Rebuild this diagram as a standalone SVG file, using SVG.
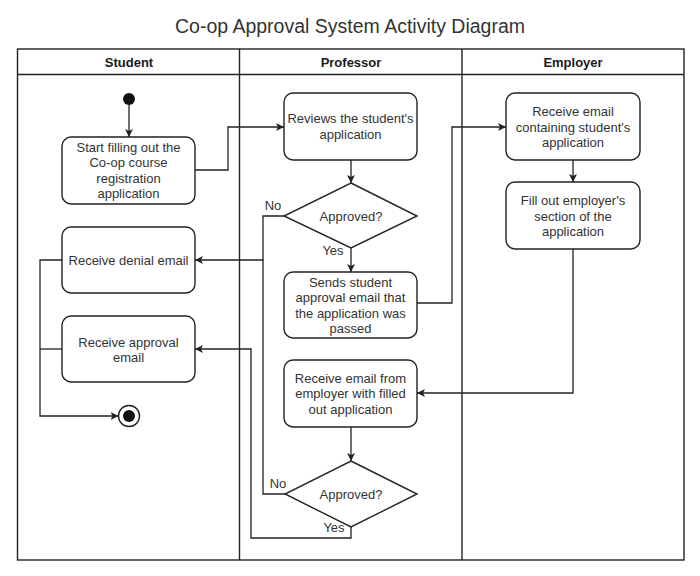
<svg xmlns="http://www.w3.org/2000/svg" width="700" height="576" viewBox="0 0 700 576">
<defs>
<style>
.lane{fill:none;stroke:#222;stroke-width:1.4}
.box{fill:#fff;stroke:#222;stroke-width:1.4}
.edge{fill:none;stroke:#222;stroke-width:1.3}
.arr{fill:none;stroke:#222;stroke-width:1.3;marker-end:url(#ah)}
.t{font-family:"Liberation Sans",Arial,sans-serif;font-size:13px;fill:#333;text-anchor:middle}
.h{font-family:"Liberation Sans",Arial,sans-serif;font-size:13px;font-weight:bold;fill:#1a1a1a;text-anchor:middle}
.title{font-family:"Liberation Sans",Arial,sans-serif;font-size:19.5px;fill:#333;text-anchor:middle}
</style>
<marker id="ah" viewBox="0 0 8 8" refX="8" refY="4" markerWidth="8" markerHeight="8" markerUnits="userSpaceOnUse" orient="auto">
<path d="M0,0 L8,4 L0,8 L2,4 z" fill="#222"/>
</marker>
</defs>
<rect width="700" height="576" fill="#fff"/>
<text class="title" x="350" y="33">Co-op Approval System Activity Diagram</text>

<g id="swimlanes">
<rect class="lane" x="17.5" y="49" width="666.5" height="511"/>
<line class="lane" x1="17.5" y1="74.5" x2="684" y2="74.5"/>
<line class="lane" x1="239.5" y1="49" x2="239.5" y2="560"/>
<line class="lane" x1="462" y1="49" x2="462" y2="560"/>
<text class="h" x="129" y="67">Student</text>
<text class="h" x="351" y="67">Professor</text>
<text class="h" x="573" y="67">Employer</text>
</g>

<g id="connectors">
<path class="arr" d="M129,105 L129,137"/>
<path class="arr" d="M195,170 L228,170 L228,127 L284,127"/>
<path class="arr" d="M351,160 L351,183"/>
<path class="arr" d="M284,216 L263,216 L263,260 L195,260"/>
<path class="arr" d="M351,248 L351,272"/>
<path class="arr" d="M417,303 L452,303 L452,127 L506,127"/>
<path class="arr" d="M573,160 L573,182"/>
<path class="arr" d="M573,249 L573,393 L417,393"/>
<path class="arr" d="M351,427 L351,461"/>
<path class="edge" d="M285,494 L263,494 L263,260"/>
<path class="arr" d="M351,527 L351,538 L251,538 L251,349 L195,349"/>
<path class="arr" d="M62,260 L40,260 L40,416 L118.5,416"/>
<path class="edge" d="M62,349 L40,349"/>
<text class="t" x="273" y="209.5">No</text>
<text class="t" x="333" y="254.5">Yes</text>
<text class="t" x="278" y="487.5">No</text>
<text class="t" x="334" y="531.5">Yes</text>
</g>

<g id="start">
<circle cx="129" cy="99" r="6" fill="#111"/>
</g>

<g id="start-filling">
<rect class="box" x="62" y="137" width="133" height="67" rx="9"/>
<text class="t" x="128.5" y="151.7">Start filling out the</text>
<text class="t" x="128.5" y="167.2">Co-op course</text>
<text class="t" x="128.5" y="182.7">registration</text>
<text class="t" x="128.5" y="198.2">application</text>
</g>

<g id="receive-denial">
<rect class="box" x="62" y="227" width="133" height="66" rx="9"/>
<text class="t" x="128.5" y="264.5">Receive denial email</text>
</g>

<g id="receive-approval">
<rect class="box" x="62" y="316" width="133" height="66" rx="9"/>
<text class="t" x="128.5" y="346.5">Receive approval</text>
<text class="t" x="128.5" y="362">email</text>
</g>

<g id="end">
<circle cx="129" cy="416" r="10.5" fill="#fff" stroke="#222" stroke-width="1.4"/>
<circle cx="129" cy="416" r="6" fill="#111"/>
</g>

<g id="reviews">
<rect class="box" x="284" y="93" width="133" height="67" rx="9"/>
<text class="t" x="350.5" y="123.2">Reviews the student's</text>
<text class="t" x="350.5" y="138.7">application</text>
</g>

<g id="approved1">
<polygon class="box" points="351,183 417,216 351,248 284,216"/>
<text class="t" x="351" y="220.5">Approved?</text>
</g>

<g id="sends-approval">
<rect class="box" x="284" y="272" width="133" height="66" rx="9"/>
<text class="t" x="350.5" y="286.5">Sends student</text>
<text class="t" x="350.5" y="302">approval email that</text>
<text class="t" x="350.5" y="317.5">the application was</text>
<text class="t" x="350.5" y="333">passed</text>
</g>

<g id="receive-filled">
<rect class="box" x="284" y="360" width="133" height="67" rx="9"/>
<text class="t" x="350.5" y="382.5">Receive email from</text>
<text class="t" x="350.5" y="398">employer with filled</text>
<text class="t" x="350.5" y="413.5">out application</text>
</g>

<g id="approved2">
<polygon class="box" points="351,461 417,494 351,527 285,494"/>
<text class="t" x="351" y="498.5">Approved?</text>
</g>

<g id="receive-containing">
<rect class="box" x="506" y="93" width="134" height="67" rx="9"/>
<text class="t" x="573" y="116">Receive email</text>
<text class="t" x="573" y="131.5">containing student's</text>
<text class="t" x="573" y="147">application</text>
</g>

<g id="fill-employer">
<rect class="box" x="506" y="182" width="134" height="67" rx="9"/>
<text class="t" x="573" y="205">Fill out employer's</text>
<text class="t" x="573" y="220.5">section of the</text>
<text class="t" x="573" y="236">application</text>
</g>
</svg>
